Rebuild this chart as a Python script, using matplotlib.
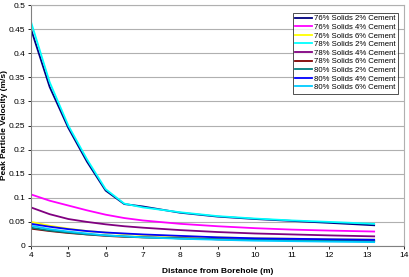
import matplotlib
matplotlib.use("Agg")
import matplotlib.pyplot as plt

plt.rcParams['font.family'] = ['Liberation Sans', 'DejaVu Sans']

# distances (m)
x = [4, 4.5, 5, 5.5, 6, 6.5, 7, 8, 9, 10, 11, 12, 13.2]

s76_c2 = [0.450, 0.330, 0.245, 0.175, 0.115, 0.087, 0.082, 0.069, 0.061, 0.056, 0.052, 0.048, 0.043]
s76_c4 = [0.107, 0.094, 0.084, 0.074, 0.065, 0.058, 0.053, 0.046, 0.041, 0.037, 0.034, 0.032, 0.030]
s76_c6 = [0.050, 0.042, 0.036, 0.031, 0.028, 0.025, 0.023, 0.020, 0.018, 0.016, 0.015, 0.014, 0.013]
s78_c2 = [0.465, 0.340, 0.250, 0.180, 0.118, 0.088, 0.080, 0.070, 0.062, 0.057, 0.053, 0.050, 0.046]
s78_c4 = [0.080, 0.066, 0.056, 0.050, 0.045, 0.041, 0.038, 0.033, 0.029, 0.026, 0.024, 0.022, 0.020]
s78_c6 = [0.036, 0.031, 0.027, 0.024, 0.021, 0.019, 0.018, 0.016, 0.014, 0.013, 0.012, 0.011, 0.010]
s80_c2 = [0.038, 0.032, 0.028, 0.024, 0.022, 0.020, 0.018, 0.016, 0.014, 0.013, 0.012, 0.011, 0.010]
s80_c4 = [0.046, 0.040, 0.035, 0.031, 0.028, 0.026, 0.024, 0.021, 0.018, 0.016, 0.015, 0.014, 0.013]
s80_c6 = [0.042, 0.035, 0.030, 0.026, 0.022, 0.020, 0.018, 0.015, 0.013, 0.011, 0.010, 0.009, 0.008]

labels = ["76% Solids 2% Cement", "76% Solids 4% Cement", "76% Solids 6% Cement",
          "78% Solids 2% Cement", "78% Solids 4% Cement", "78% Solids 6% Cement",
          "80% Solids 2% Cement", "80% Solids 4% Cement", "80% Solids 6% Cement"]
series = [s76_c2, s76_c4, s76_c6, s78_c2, s78_c4, s78_c6, s80_c2, s80_c4, s80_c6]
colors = ["#000080", "#ff00ff", "#ffff00", "#00ffff", "#800080",
          "#800000", "#008080", "#0000ff", "#00ccff"]

fig = plt.figure(figsize=(4.09, 2.77), dpi=100)
ax = fig.add_axes([31/409, 31/277, 373/409, 241/277])

# yellow drawn first so the others cover it, as in the original
order = [2, 5, 6, 8, 7, 4, 1, 0, 3]
handles = {}
for i in order:
    h, = ax.plot(x, series[i], color=colors[i], lw=1.3, label=labels[i])
    handles[i] = h

ax.set_xlim(4, 14)
ax.set_ylim(0, 0.5)
ax.set_xticks(range(4, 15))
ax.set_yticks([0, 0.05, 0.1, 0.15, 0.2, 0.25, 0.3, 0.35, 0.4, 0.45, 0.5])
ax.set_yticklabels(["0", "0.05", "0.1", "0.15", "0.2", "0.25", "0.3", "0.35", "0.4", "0.45", "0.5"])
ax.tick_params(labelsize=6, length=2, width=0.6, colors="black", pad=2)
ax.grid(axis="y", color="#b0b0b0", lw=0.8)
ax.set_axisbelow(True)
for side in ["top", "right"]:
    ax.spines[side].set_color("#b0b0b0")
for side in ["left", "bottom"]:
    ax.spines[side].set_color("#808080")

ax.set_xlabel("Distance from Borehole (m)", fontsize=6, fontweight="bold")
ax.set_ylabel("Peak Particle Velocity (m/s)", fontsize=6, fontweight="bold")
ax.xaxis.set_label_coords(0.5, -0.09)
ax.yaxis.set_label_coords(-0.062, 0.5)

leg = ax.legend([handles[i] for i in range(9)], labels, loc="upper right",
                bbox_to_anchor=(0.995, 0.985), fontsize=5.6, frameon=True,
                fancybox=False, edgecolor="black", handlelength=2.2,
                handletextpad=0.3, labelspacing=0.15, borderpad=0.3)
leg.get_frame().set_linewidth(0.6)

fig.savefig("out.png", dpi=100)
